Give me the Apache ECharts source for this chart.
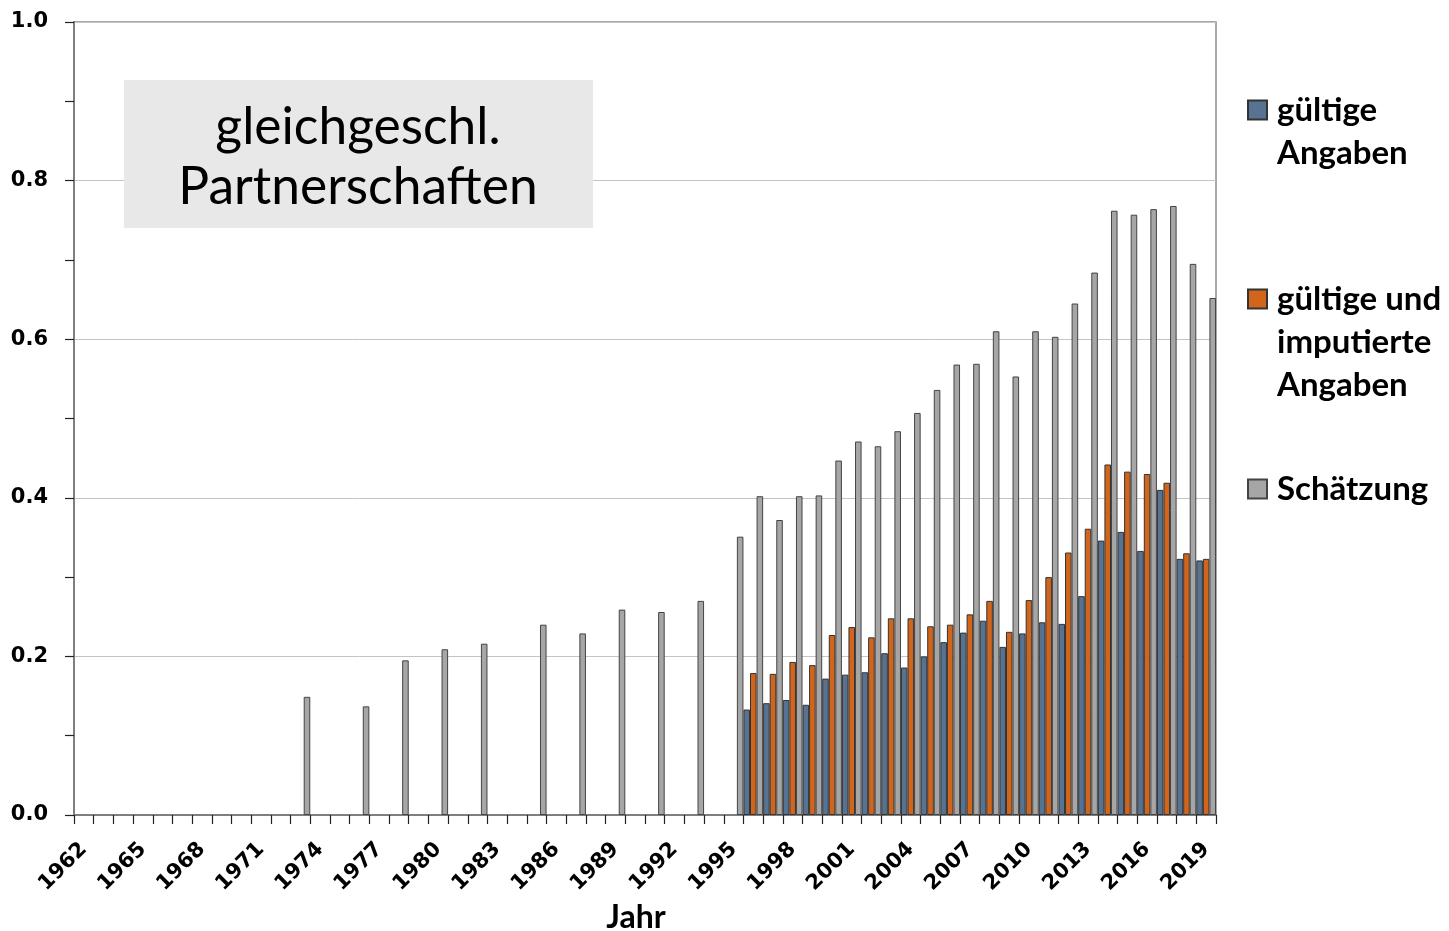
<!DOCTYPE html>
<html>
<head>
<meta charset="utf-8">
<title>gleichgeschl. Partnerschaften</title>
<script src="https://cdn.jsdelivr.net/npm/echarts@6/dist/echarts.min.js"></script>
<style>
  html, body { margin: 0; padding: 0; background: #fff; }
  #chart { width: 1449px; height: 931px; }
</style>
</head>
<body>
<div id="chart"></div>
<script>
// Jahre 1962 - 2019
var years = [];
for (var y = 1962; y <= 2019; y++) years.push(String(y));

// gültige Angaben (ab 1996)
var gueltig = [
  null, null, null, null, null, null, null, null, null, null, // 1962-1971
  null, null, null, null, null, null, null, null, null, null, // 1972-1981
  null, null, null, null, null, null, null, null, null, null, // 1982-1991
  null, null, null, null,                                     // 1992-1995
  0.133, 0.141, 0.145, 0.139, 0.172, 0.177, 0.180, 0.204, 0.186, 0.200, // 1996-2005
  0.218, 0.230, 0.245, 0.212, 0.229, 0.243, 0.241, 0.276, 0.346, 0.357, // 2006-2015
  0.333, 0.410, 0.323, 0.321                                            // 2016-2019
];

// gültige und imputierte Angaben (ab 1996)
var imputiert = [
  null, null, null, null, null, null, null, null, null, null,
  null, null, null, null, null, null, null, null, null, null,
  null, null, null, null, null, null, null, null, null, null,
  null, null, null, null,
  0.179, 0.178, 0.193, 0.189, 0.227, 0.237, 0.224, 0.248, 0.248, 0.238,
  0.240, 0.253, 0.270, 0.231, 0.271, 0.300, 0.331, 0.361, 0.442, 0.433,
  0.430, 0.419, 0.330, 0.323
];

// Schätzung
var schaetzung = [
  null, null, null, null, null, null, null, null, null, null, // 1962-1971
  null, 0.149, null, null, 0.137, null, 0.195, null, 0.209, null, // 1972-1981
  0.216, null, null, 0.240, null, 0.229, null, 0.259, null, 0.256, // 1982-1991
  null, 0.270, null, 0.351,                                        // 1992-1995
  0.402, 0.372, 0.402, 0.403, 0.447, 0.471, 0.465, 0.484, 0.507, 0.536, // 1996-2005
  0.568, 0.569, 0.610, 0.553, 0.610, 0.603, 0.645, 0.684, 0.762, 0.757, // 2006-2015
  0.764, 0.768, 0.695, 0.652                                            // 2016-2019
];

var legendLines = {
  'gültige Angaben': ['gültige', 'Angaben'],
  'gültige und imputierte Angaben': ['gültige und', 'imputierte', 'Angaben'],
  'Schätzung': ['Schätzung']
};

var LH = 43;
// Symbol soll auf Höhe der ersten Zeile stehen -> leere Zeilen davor
function legendFor(name, iconY) {
  var lines = legendLines[name];
  var pre = [];
  for (var i = 0; i < lines.length - 1; i++) pre.push('');
  var total = pre.length + lines.length;
  return {
    data: [{ name: name, icon: 'rect' }],
    left: 1247,
    top: iconY - total * LH / 2,
    padding: 0,
    itemWidth: 19,
    itemHeight: 19,
    selectedMode: false,
    formatter: function (n) { return pre.concat(legendLines[n]).join('\n'); },
    textStyle: {
      fontFamily: 'Lato',
      fontWeight: 'bold',
      fontSize: 33,
      lineHeight: LH,
      color: '#000',
      padding: [0, 0, 0, 5]
    }
  };
}

var chart = echarts.init(document.getElementById('chart'));
chart.setOption({
  animation: false,
  backgroundColor: '#fff',
  grid: {
    left: 74, right: 233, top: 22, bottom: 116,
    outerBoundsMode: 'none',
    containLabel: false,
    show: true, borderColor: '#8c8c8c', borderWidth: 1.5
  },
  legend: [
    legendFor('gültige Angaben', 110),
    legendFor('gültige und imputierte Angaben', 299),
    legendFor('Schätzung', 489)
  ],
  xAxis: {
    type: 'category',
    data: years,
    name: 'Jahr',
    nameLocation: 'middle',
    nameGap: 81,
    nameTextStyle: {
      fontFamily: 'Lato', fontWeight: 'bold', fontSize: 32, color: '#000',
      padding: [0, 18, 0, 0]
    },
    axisLine: { lineStyle: { color: '#7f7f7f', width: 2 } },
    axisTick: { show: true, interval: 0, length: 9, lineStyle: { color: '#222', width: 1.2 } },
    axisLabel: {
      interval: 2,
      rotate: 45,
      margin: 31,
      fontFamily: 'DejaVu Sans',
      fontWeight: 'bold',
      fontSize: 21,
      color: '#000'
    },
    splitLine: { show: false }
  },
  yAxis: {
    type: 'value',
    min: 0, max: 1, interval: 0.2,
    axisLine: { show: true, lineStyle: { color: '#7f7f7f', width: 2 } },
    axisTick: { show: true, length: 9, lineStyle: { color: '#222', width: 1.2 } },
    minorTick: { show: true, splitNumber: 2, length: 9, lineStyle: { color: '#222', width: 1.2 } },
    axisLabel: {
      margin: 26,
      fontFamily: 'DejaVu Sans',
      fontWeight: 'bold',
      fontSize: 21,
      color: '#000',
      formatter: function (v) { return v.toFixed(1); }
    },
    splitLine: { show: true, lineStyle: { color: '#c4c4c4', width: 1 } }
  },
  series: [
    {
      name: 'gültige Angaben',
      type: 'bar',
      data: gueltig,
      barGap: '0%',
      barCategoryGap: '0%',
      itemStyle: { color: '#587391', borderColor: '#333', borderWidth: 1 }
    },
    {
      name: 'gültige und imputierte Angaben',
      type: 'bar',
      data: imputiert,
      itemStyle: { color: '#d2651c', borderColor: '#333', borderWidth: 1 }
    },
    {
      name: 'Schätzung',
      type: 'bar',
      data: schaetzung,
      itemStyle: { color: '#a6a6a6', borderColor: '#444', borderWidth: 1 }
    }
  ],
  graphic: [
    {
      type: 'rect',
      left: 124,
      top: 80,
      z: 100,
      shape: { width: 469, height: 148 },
      style: { fill: '#e8e8e8' }
    },
    {
      type: 'text',
      x: 358,
      y: 157,
      z: 101,
      style: {
        text: 'gleichgeschl.\nPartnerschaften',
        fontFamily: 'Lato',
        fontSize: 51.5,
        lineHeight: 60,
        fill: '#000',
        align: 'center',
        verticalAlign: 'middle'
      }
    }
  ]
});
</script>
</body>
</html>
